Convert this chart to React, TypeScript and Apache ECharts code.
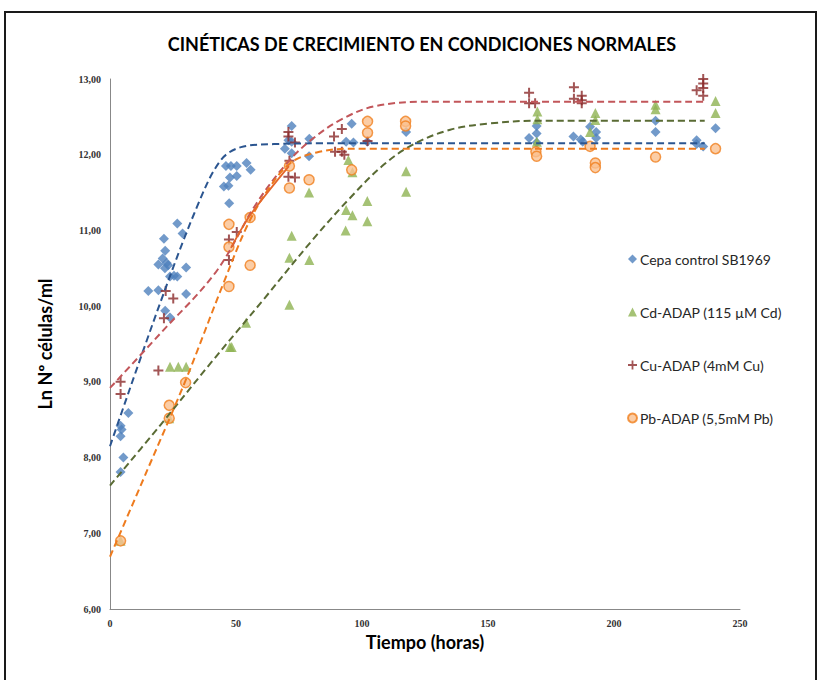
import React, { useEffect, useRef } from 'react';
import * as echarts from 'echarts';

const seriesNames = ['Cepa control SB1969', 'Cd-ADAP (115 µM Cd)', 'Cu-ADAP (4mM Cu)', 'Pb-ADAP (5,5mM Pb)'];
const xTicks = [0, 50, 100, 150, 200, 250];
const yTicks = [6, 7, 8, 9, 10, 11, 12, 13];

const controlData: number[][] = [
  [4.2, 7.81], [5.3, 8.0], [4.2, 8.28], [4.6, 8.37], [4.2, 8.42], [7.3, 8.59],
  [15.2, 10.2], [19.2, 10.21], [21.9, 9.94], [23.8, 9.85], [23.8, 10.39], [25.4, 10.4], [26.7, 10.39],
  [30.2, 10.16], [30.2, 10.51], [20.9, 10.63], [19.2, 10.55], [22.5, 10.57], [23.1, 10.54], [21.8, 10.5],
  [21.9, 10.73], [21.4, 10.89], [26.7, 11.09], [28.8, 10.96],
  [45.2, 11.58], [47.0, 11.59], [47.3, 11.36], [47.6, 11.7], [50.3, 11.72], [46.0, 11.85], [48.0, 11.85],
  [50.3, 11.85], [54.2, 11.89], [55.8, 11.8],
  [72.1, 12.38], [70.8, 12.19], [72.1, 12.17], [69.4, 12.08], [72.1, 12.02], [79.1, 12.21], [79.0, 11.98],
  [95.9, 12.41], [93.7, 12.17], [96.6, 12.16], [102.1, 12.17], [117.5, 12.3],
  [166.3, 12.22], [169.3, 12.38], [169.3, 12.28], [169.3, 12.16], [183.9, 12.24], [186.8, 12.2], [187.6, 12.17],
  [190.5, 12.37], [192.9, 12.3], [192.9, 12.22], [216.5, 12.45], [216.5, 12.3], [232.8, 12.19], [232.8, 12.14],
  [235.4, 12.11], [240.3, 12.35],
];

const cdData: number[][] = [
  [4.2, 6.9], [23.5, 8.52], [23.8, 9.2], [27.1, 9.2], [30.2, 9.2], [47.6, 9.46], [48.3, 9.46], [54.0, 9.78],
  [71.2, 10.02], [71.2, 10.64], [72.1, 10.93], [79.1, 10.61], [79.0, 11.5], [93.5, 11.0], [93.7, 11.27],
  [96.2, 11.2], [94.6, 11.93], [96.2, 11.77], [102.1, 11.39], [102.1, 11.12], [117.5, 11.78], [117.5, 11.51],
  [169.6, 12.57], [169.6, 12.47], [169.4, 12.17], [192.6, 12.55], [192.6, 12.46], [190.5, 12.3],
  [216.5, 12.66], [216.5, 12.6], [240.3, 12.71], [240.3, 12.55],
];

const cuData: number[][] = [
  [4.2, 9.0], [4.2, 8.84], [19.2, 9.15], [21.4, 9.84], [22.1, 10.2], [25.1, 10.1], [47.2, 10.88], [50.3, 10.98],
  [47.2, 10.61], [70.8, 12.3], [70.8, 12.24], [73.4, 12.16], [71.2, 11.92], [70.8, 11.71], [73.4, 11.7],
  [88.9, 12.24], [89.3, 12.04], [92.0, 12.04], [93.0, 12.0], [92.0, 12.34], [102.2, 12.18],
  [166.3, 12.82], [166.3, 12.68], [168.7, 12.68], [184.1, 12.89], [184.1, 12.74], [187.2, 12.78], [187.2, 12.72],
  [187.2, 12.68], [235.4, 13.0], [235.4, 12.94], [235.4, 12.88], [232.8, 12.85], [235.4, 12.78],
];

const pbData: number[][] = [
  [4.2, 6.9], [23.5, 8.69], [23.5, 8.52], [30.0, 8.99], [47.2, 11.08], [47.2, 10.78], [47.2, 10.26],
  [55.6, 11.17], [55.6, 10.54], [71.2, 11.85], [71.2, 11.56], [79.0, 11.67], [95.9, 11.8],
  [102.2, 12.44], [102.2, 12.29], [117.3, 12.44], [117.3, 12.38], [169.0, 12.04], [169.3, 11.98],
  [190.5, 12.11], [192.6, 11.89], [192.6, 11.83], [216.5, 11.97], [240.3, 12.08],
];

// Trend lines
const controlTrend: number[][] = [
  [0, 8.15], [20, 10.05], [35, 11.35], [44, 11.93], [52, 12.1], [65, 12.14], [85, 12.15], [236, 12.15],
];
const cdTrend: number[][] = [
  [0, 7.63], [20, 8.43], [40, 9.25], [60, 10.05], [80, 10.86], [95, 11.42], [108, 11.85], [120, 12.13],
  [135, 12.33], [150, 12.41], [170, 12.45], [236, 12.45],
];
const cuTrend: number[][] = [
  [0, 8.92], [20, 9.64], [42, 10.45], [58, 11.35], [70, 11.88], [80, 12.2], [92, 12.47], [105, 12.64],
  [125, 12.7], [236, 12.7],
];
const pbTrend: number[][] = [
  [0, 6.69], [15, 7.85], [30, 9.02], [45, 10.3], [55, 11.1], [64, 11.6], [72, 11.9], [82, 12.03],
  [95, 12.08], [236, 12.08],
];
const pbSolid: number[][] = [[48, 10.77], [55.6, 11.2], [71, 11.85]];

const plusPath = 'path://M4,0H6V4H10V6H6V10H4V6H0V4H4Z';

export default function App() {
  const ref = useRef<HTMLDivElement>(null);
  useEffect(() => {
    if (!ref.current) return;
    const chart = echarts.init(ref.current, null, { renderer: 'svg' });
    const trend = (data: number[][], color: string) => ({
      type: 'line',
      data,
      smooth: 0.35,
      showSymbol: false,
      symbol: 'none',
      silent: true,
      z: 3,
      lineStyle: { color, width: 2, type: [7, 4] },
    });
    chart.setOption({
      animation: false,
      backgroundColor: '#ffffff',
      title: {
        text: 'CINÉTICAS DE CRECIMIENTO EN CONDICIONES NORMALES',
        left: 417,
        textAlign: 'center',
        top: 30,
        textStyle: { fontFamily: 'Lato', fontWeight: 'bold', fontSize: 18, color: '#000' },
      },
      graphic: [
        {
          type: 'rect',
          shape: { x: 5, y: 12, width: 811, height: 700 },
          style: { fill: 'none', stroke: '#1a1a1a', lineWidth: 2 },
          silent: true,
        },
      ],
      legend: {
        data: seriesNames,
        orient: 'vertical',
        left: 622,
        top: 247,
        itemGap: 39,
        itemWidth: 9,
        itemHeight: 9,
        textStyle: { fontFamily: 'Lato', fontSize: 14, lineHeight: 14, color: '#262626', padding: [0, 0, 0, -2] },
      },
      grid: { left: 110, top: 79, width: 630, height: 530, containLabel: false },
      xAxis: {
        type: 'value',
        min: 0,
        max: 250,
        interval: 50,
        name: 'Tiempo (horas)',
        nameLocation: 'middle',
        nameGap: 23,
        nameTextStyle: { fontFamily: 'Lato', fontWeight: 'bold', fontSize: 18, color: '#000' },
        axisLine: { lineStyle: { color: '#888' } },
        axisTick: { show: false },
        splitLine: { show: false },
        axisLabel: {
          fontFamily: 'Liberation Serif',
          fontWeight: 'bold',
          fontSize: 10,
          color: '#333',
          margin: 9,
          formatter: (v: number) => (xTicks.includes(v) ? String(v) : ''),
        },
      },
      yAxis: {
        type: 'value',
        min: 6,
        max: 13,
        interval: 1,
        name: 'Ln Nº células/ml',
        nameLocation: 'middle',
        nameGap: 56,
        nameTextStyle: { fontFamily: 'Lato', fontWeight: 'bold', fontSize: 18, color: '#000' },
        axisLine: { show: true, lineStyle: { color: '#888' } },
        axisTick: { show: false },
        splitLine: { show: false },
        axisLabel: {
          fontFamily: 'Liberation Serif',
          fontWeight: 'bold',
          fontSize: 10,
          color: '#333',
          margin: 9,
          formatter: (v: number) => (yTicks.includes(v) ? v.toFixed(2).replace('.', ',') : ''),
        },
      },
      series: [
        {
          name: seriesNames[0],
          type: 'scatter',
          data: controlData,
          symbol: 'diamond',
          symbolSize: 10,
          z: 2,
          itemStyle: { color: '#4F81BD' },
        },
        {
          name: seriesNames[1],
          type: 'scatter',
          data: cdData,
          symbol: 'triangle',
          symbolSize: 10,
          z: 2,
          itemStyle: { color: '#8FB353' },
        },
        {
          name: seriesNames[2],
          type: 'scatter',
          data: cuData,
          symbol: plusPath,
          symbolSize: 10,
          z: 2,
          itemStyle: { color: '#8B2A2A' },
        },
        {
          name: seriesNames[3],
          type: 'scatter',
          data: pbData,
          symbol: 'circle',
          symbolSize: 10,
          z: 2,
          itemStyle: { color: '#FAC090', borderColor: '#F07F1E', borderWidth: 1.5 },
        },
        trend(controlTrend, '#2B5590'),
        trend(cdTrend, '#5A6B34'),
        trend(cuTrend, '#C2565A'),
        trend(pbTrend, '#EE7B1E'),
        {
          type: 'line',
          data: pbSolid,
          smooth: 0.3,
          showSymbol: false,
          symbol: 'none',
          silent: true,
          z: 3,
          lineStyle: { color: '#E4672A', width: 1.8 },
        },
      ],
    });
    return () => chart.dispose();
  }, []);
  return (
    <div
      ref={ref}
      style={{ position: 'fixed', left: 0, top: 0, width: 819, height: 680, background: '#fff' }}
    />
  );
}
